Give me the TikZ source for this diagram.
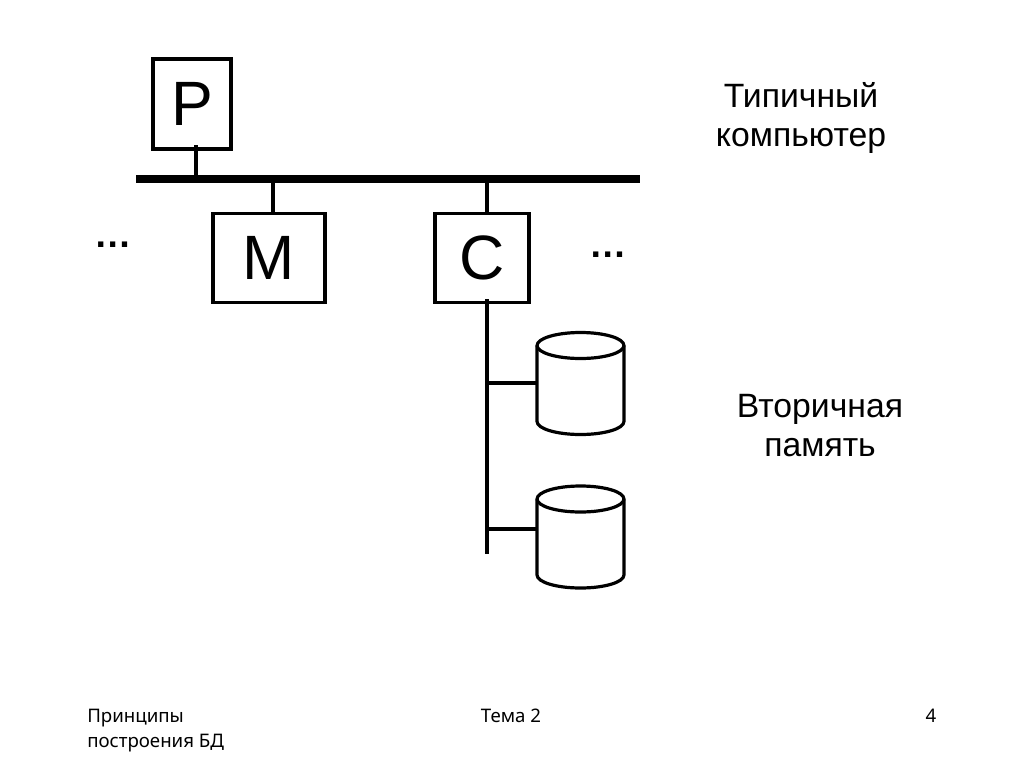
\documentclass[tikz,border=0pt]{standalone}
\usepackage{fontspec}
\setmainfont{Liberation Sans}
\newfontfamily\footfont{Noto Sans}

\newcommand{\drawdisk}[1]{
  \draw[stem,fill=white] ([yshift=-9.75pt]#1.north west)
    arc[start angle=180,end angle=0,x radius=32.6pt,y radius=9.75pt]
    -- ([yshift=9.75pt]#1.south east)
    arc[start angle=0,end angle=-180,x radius=32.6pt,y radius=9.75pt]
    -- cycle;
  \draw[stem] ([yshift=-9.75pt]#1.north west)
    arc[start angle=180,end angle=360,x radius=32.6pt,y radius=9.75pt];
}

\begin{document}
\begin{tikzpicture}[
            x=0.75pt,y=-0.75pt,
            unit/.style={
              draw,
              line width=2.4pt,
              inner sep=0pt,
              font=\fontsize{47}{47}\selectfont
            },
            disk/.style={
              inner sep=0pt,
              outer sep=0pt,
              minimum width=65.2pt,
              minimum height=76.5pt
            },
            stem/.style={line width=2.4pt},
            note/.style={
              align=center,
              font=\fontsize{25.3}{29.6}\selectfont
            },
            dotsmark/.style={
              font=\bfseries\fontsize{28}{30}\selectfont
            },
            foot/.style={
              anchor=north west,
              align=left,
              inner sep=0pt,
              font=\footfont\fontsize{14}{19}\selectfont
            }
            ]
            \useasboundingbox (0,0) rectangle (1024,768);

            \node[unit,minimum width=58.5pt,minimum height=67.5pt] at (192,104) (proc) {P};
            \node[unit,minimum width=84pt,minimum height=66.75pt] at (269,258) (mem) {M};
            \node[unit,minimum width=70.5pt,minimum height=66.75pt] at (482,258) (ctrl) {C};

            \coordinate (buswest) at (136,179);
            \coordinate (buseast) at (640,179);
            \coordinate (busp) at (196,179);
            \coordinate (busm) at (273,179);
            \coordinate (busc) at (487,179);
            \coordinate (procstem) at (196,145);
            \coordinate (spine) at (487,299);
            \coordinate (spineend) at (487,554);
            \coordinate (tap1) at (487,383);
            \coordinate (tap2) at (487,529);

            \draw[line width=5.5pt] (buswest) -- (buseast);
            \draw[stem] (busp) -- (procstem);
            \draw[stem] (busm) -- (busm |- mem.north);
            \draw[stem] (busc) -- (busc |- ctrl.north);
            \draw[stem] (spine) -- (spineend);

            \node[disk] at (580.5,383.5) (disk1) {};
            \node[disk] at (580.5,537) (disk2) {};
            \drawdisk{disk1}
            \drawdisk{disk2}
            \draw[stem] (tap1) -- (disk1.west |- tap1);
            \draw[stem] (tap2) -- (disk2.west |- tap2);

            \node[dotsmark] at (113,245) (dotsl) {\dots};
            \node[dotsmark] at (608,255) (dotsr) {\dots};
            \node[note] at (801,118) (typical) {Типичный\\компьютер};
            \node[note] at (820,425.5) (second) {Вторичная\\память};

            \node[foot] at (87,709) (course) {Принципы\\построения БД};
            \node[foot,anchor=north] at (511,709) (topic) {Тема 2};
            \node[foot,anchor=north] at (931,709) (page) {4};
\end{tikzpicture}
\end{document}
